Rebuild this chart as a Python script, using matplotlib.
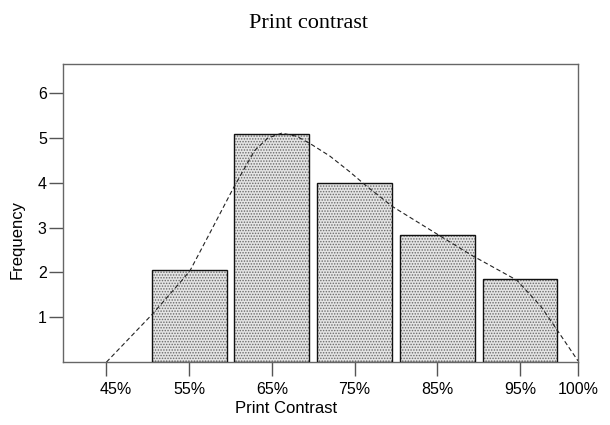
import matplotlib
matplotlib.use("Agg")
import matplotlib.pyplot as plt
from matplotlib import transforms

# histogram bins (bin centres in percent) and frequencies
bin_centres = [55, 65, 75, 85, 95]
freqs = [2.05, 5.1, 4.0, 2.83, 1.85]

# density curve
curve_x = [45.0, 50.6, 54.1, 55.1, 57.7, 60.3, 62.9, 64.5, 66.2, 68.0, 69.6,
           72.0, 74.4, 76.5, 79.6, 85.3, 89.2, 94.6, 97.5, 99.4, 102.0]
curve_y = [0.0, 1.08, 1.82, 2.04, 2.95, 3.87, 4.72, 5.0, 5.11, 5.04, 4.88,
           4.6, 4.25, 3.92, 3.47, 2.82, 2.38, 1.83, 1.25, 0.74, 0.03]

tick_pos = [45, 55, 65, 75, 85, 95, 102.0]
tick_lab = ["45%", "55%", "65%", "75%", "85%", "95%", "100%"]
ytick_pos = [1, 2, 3, 4, 5, 6]

plt.rcParams['font.family'] = ['Liberation Sans', 'DejaVu Sans']
plt.rcParams['hatch.color'] = '#6a6a6a'
plt.rcParams['hatch.linewidth'] = 0.7

fig = plt.figure(figsize=(6.1, 4.25), dpi=100)
ax = fig.add_axes([0.104, 0.148, 0.8434, 0.701])

# dotted fill, then the outlines on top
ax.bar(bin_centres, freqs, width=9.05, color='#e4e4e4', linewidth=0,
       hatch='......', zorder=2)
ax.bar(bin_centres, freqs, width=9.05, fill=False, edgecolor='#111111',
       linewidth=1.0, zorder=3)
ax.plot(curve_x, curve_y, color='#222222', lw=0.8, ls=(0, (4, 2.5)), zorder=4)

ax.set_xlim(39.8, 102.0)
ax.set_ylim(0, 6.65)
ax.set_xticks(tick_pos)
ax.set_xticklabels(tick_lab)
ax.set_yticks(ytick_pos)
ax.tick_params(axis='both', direction='out', length=10, width=1.0,
               color='#555555', labelsize=11.5)
ax.tick_params(axis='x', pad=4)
ax.tick_params(axis='y', pad=2)
for s in ax.spines.values():
    s.set_color('#666666')
    s.set_linewidth(1.0)

# first label sits a little right of its tick in the original
first = ax.get_xticklabels()[0]
first.set_transform(first.get_transform() +
                    transforms.ScaledTranslation(9 / 100, 0, fig.dpi_scale_trans))

ax.set_xlabel("Print Contrast", fontsize=12)
ax.xaxis.set_label_coords(0.432, -0.13)
ax.set_ylabel("Frequency", fontsize=12)
ax.yaxis.set_label_coords(-0.075, 0.41)

fig.text(0.505, 1 - 24 / 425, "Print contrast", ha='center', va='center',
         fontsize=16, family=['Liberation Serif', 'DejaVu Serif'])

fig.savefig("out.png", dpi=100)
